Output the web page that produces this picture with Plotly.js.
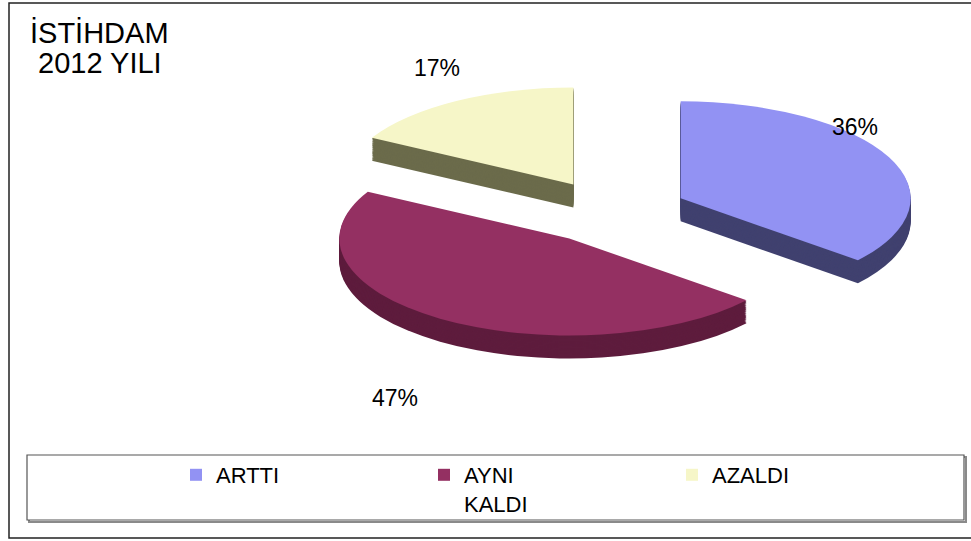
<!DOCTYPE html>
<html>
<head>
<meta charset="utf-8">
<script src="https://cdn.plot.ly/plotly-3.0.1.min.js"></script>
<style>
  html, body { margin: 0; padding: 0; background: #ffffff; }
  #chart { width: 971px; height: 541px; }
</style>
</head>
<body>
<div id="chart"></div>
<script>
// ---- data ----
const labels = ['ARTTI', 'AYNI<br>KALDI', 'AZALDI'];
const values = [36, 47, 17];
const percentLabels = values.map(v => v + '%');
const topColors = ['#9292f3', '#943062', '#f6f6c8'];
const sideColors = ['#40416f', '#5e1c3d', '#6b6b4b'];
const titleLines = ['İSTİHDAM', '2012 YILI'];

// ---- geometry / style settings ----
const W = 971, H = 541;
const FONT = 'Liberation Sans, Arial, sans-serif';
const PULL = 0.33;
const DOM_H = 400;                 // pie domain height in px
const DOM_Y0 = 0.2;                // bottom of top-pie domain
const R_EST = DOM_H / (2 * (1 + PULL));
const TARGET_RX = 230, TARGET_RY = 97, DEPTH = 23;
const TARGET_CX = 612, TARGET_CY = 212;
const N_LAYERS = 20;
const depthUnsq = DEPTH * R_EST / TARGET_RY;

function pieTrace(colors, shiftPx, showLegend) {
  const y0 = DOM_Y0 - shiftPx / H;
  return {
    type: 'pie',
    labels: labels,
    values: values,
    sort: false,
    direction: 'clockwise',
    rotation: 0,
    pull: values.map(() => PULL),
    textinfo: 'none',
    hoverinfo: 'skip',
    showlegend: showLegend,
    marker: { colors: colors, line: { width: 0 } },
    domain: { x: [0, 1], y: [y0, y0 + DOM_H / H] }
  };
}

const traces = [];
for (let j = N_LAYERS; j >= 1; j--) {
  traces.push(pieTrace(sideColors, depthUnsq * j / N_LAYERS, false));
}
traces.push(pieTrace(topColors, 0, true));

const px = x => x / W;
const py = y => 1 - y / H;

const labelPos = [[855, 127], [395, 398], [437, 68]];
const annotations = percentLabels.map((t, i) => ({
  text: t, xref: 'paper', yref: 'paper',
  x: px(labelPos[i][0]), y: py(labelPos[i][1]),
  xanchor: 'center', yanchor: 'middle', showarrow: false,
  font: { family: FONT, size: 23, color: '#000' }
}));
const titlePos = [[99, 33], [100, 63]];
titleLines.forEach((t, i) => annotations.push({
  text: t, xref: 'paper', yref: 'paper',
  x: px(titlePos[i][0]), y: py(titlePos[i][1]),
  xanchor: 'center', yanchor: 'middle', showarrow: false,
  font: { family: FONT, size: 29, color: '#000' }
}));

const layout = {
  width: W, height: H,
  margin: { l: 0, r: 0, t: 0, b: 0 },
  paper_bgcolor: '#ffffff',
  plot_bgcolor: '#ffffff',
  showlegend: true,
  legend: {
    orientation: 'h',
    x: 176 / W, xanchor: 'left',
    y: 1 - 454 / H, yanchor: 'top',
    entrywidth: 203, entrywidthmode: 'pixels',
    valign: 'top',
    bgcolor: 'rgba(0,0,0,0)',
    borderwidth: 0,
    font: { family: FONT, size: 22, color: '#000' }
  },
  annotations: annotations,
  shapes: [
    { type: 'rect', xref: 'paper', yref: 'paper', layer: 'below',
      x0: px(9), x1: px(980), y0: py(3), y1: py(538),
      line: { color: '#222', width: 1.5 }, fillcolor: 'rgba(0,0,0,0)' },
    { type: 'rect', xref: 'paper', yref: 'paper', layer: 'below',
      x0: px(29), x1: px(966), y0: py(457), y1: py(522),
      line: { color: '#8a8a8a', width: 2 }, fillcolor: 'rgba(0,0,0,0)' },
    { type: 'rect', xref: 'paper', yref: 'paper', layer: 'below',
      x0: px(27), x1: px(964), y0: py(455), y1: py(520),
      line: { color: '#555', width: 1.2 }, fillcolor: '#ffffff' }
  ]
};

Plotly.newPlot('chart', traces, layout, { staticPlot: true, displayModeBar: false }).then(gd => {
  const cd = gd.calcdata[gd.calcdata.length - 1][0];
  const r = cd.r || R_EST;
  const cx0 = (cd.cx !== undefined) ? cd.cx : W / 2;
  const cy0 = (cd.cy !== undefined) ? cd.cy : H * (1 - DOM_Y0) - DOM_H / 2;
  const sx = TARGET_RX / r, sy = TARGET_RY / r;
  const layer = gd.querySelector('.pielayer');
  if (layer) {
    layer.setAttribute('transform',
      'matrix(' + sx + ',0,0,' + sy + ',' + (TARGET_CX - sx * cx0) + ',' + (TARGET_CY - sy * cy0) + ')');
  }
});
</script>
</body>
</html>
